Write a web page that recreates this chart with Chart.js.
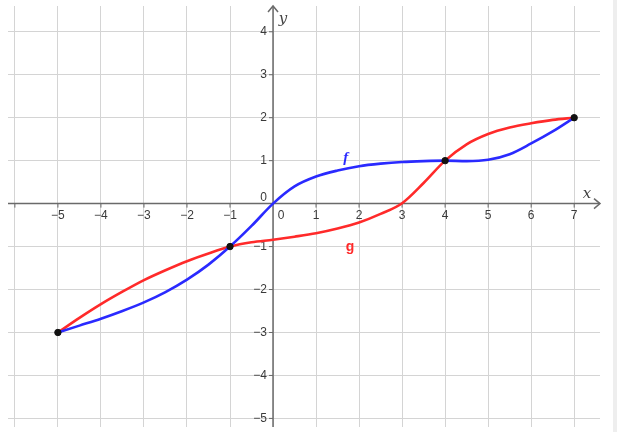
<!DOCTYPE html>
<html>
<head>
<meta charset="utf-8">
<script src="https://cdn.jsdelivr.net/npm/chart.js@4"></script>
<style>
  html, body { margin: 0; padding: 0; background: #fff; }
  #wrap { width: 617px; height: 432px; position: relative; }
</style>
</head>
<body>
<div id="wrap"><canvas id="graph"></canvas></div>
<script>
const xTicks = [-6, -5, -4, -3, -2, -1, 0, 1, 2, 3, 4, 5, 6, 7];
const yTicks = [-5, -4, -3, -2, -1, 0, 1, 2, 3, 4];

// values
const fX = [-5, -4.5, -4, -3.5, -3, -2.5, -2, -1.5, -1, -0.5, 0, 0.5, 1, 1.5, 2, 2.5, 3, 3.5, 4, 4.5, 5, 5.5, 6, 6.5, 7];
const fY = [-3, -2.84, -2.68, -2.5, -2.3, -2.06, -1.77, -1.42, -1, -0.52, 0, 0.4, 0.63, 0.77, 0.87, 0.93, 0.97, 0.99, 1, 0.99, 1.02, 1.15, 1.4, 1.68, 2];
const gX = [-5, -4.5, -4, -3.5, -3, -2.5, -2, -1.5, -1, -0.5, 0, 0.5, 1, 1.5, 2, 2.5, 3, 3.5, 4, 4.5, 5, 5.5, 6, 6.5, 7];
const gY = [-3, -2.66, -2.34, -2.05, -1.78, -1.55, -1.34, -1.16, -1, -0.9, -0.84, -0.77, -0.69, -0.58, -0.44, -0.24, 0.01, 0.48, 1, 1.38, 1.62, 1.77, 1.87, 1.95, 2];
const dotX = [-5, -1, 4, 7];
const dotY = [-3, -1, 1, 2];

const toPts = (xs, ys) => xs.map((x, i) => ({ x: x, y: ys[i] }));

const axesPlugin = {
  id: 'axes',
  beforeDatasetsDraw(chart) {
    const c = chart.ctx;
    const sx = chart.scales.x, sy = chart.scales.y;
    const area = chart.chartArea;
    const ox = sx.getPixelForValue(0), oy = sy.getPixelForValue(0);
    c.save();
    c.strokeStyle = '#6a6a6a';
    c.fillStyle = '#6a6a6a';
    c.lineWidth = 1.5;
    // x axis
    c.beginPath();
    c.moveTo(area.left, oy); c.lineTo(area.right, oy);
    c.stroke();
    c.beginPath();
    c.moveTo(area.right - 6, oy - 5); c.lineTo(area.right, oy); c.lineTo(area.right - 6, oy + 5);
    c.stroke();
    // y axis
    c.beginPath();
    c.moveTo(ox, area.bottom); c.lineTo(ox, area.top);
    c.stroke();
    c.beginPath();
    c.moveTo(ox - 5, area.top + 6); c.lineTo(ox, area.top); c.lineTo(ox + 5, area.top + 6);
    c.stroke();
    // tick marks
    c.lineWidth = 1;
    xTicks.forEach(v => {
      if (v === 0) return;
      const px = sx.getPixelForValue(v);
      c.beginPath(); c.moveTo(px, oy); c.lineTo(px, oy + 4); c.stroke();
    });
    yTicks.forEach(v => {
      if (v === 0) return;
      const py = sy.getPixelForValue(v);
      c.beginPath(); c.moveTo(ox - 4, py); c.lineTo(ox, py); c.stroke();
    });
    // tick labels
    c.fillStyle = '#3a3a3a';
    c.font = '12px "Liberation Sans", Arial, sans-serif';
    c.textAlign = 'center';
    c.textBaseline = 'middle';
    xTicks.forEach(v => {
      if (v === -6) return;
      const lbl = v < 0 ? '\u2212' + Math.abs(v) : String(v);
      let px = sx.getPixelForValue(v);
      if (v === 0) px += 8;
      c.fillText(lbl, px, oy + 12);
    });
    c.textAlign = 'right';
    yTicks.forEach(v => {
      const lbl = v < 0 ? '\u2212' + Math.abs(v) : String(v);
      let py = sy.getPixelForValue(v);
      if (v === 0) py -= 6;
      c.fillText(lbl, ox - 6, py);
    });
    // axis names
    c.font = 'italic 15px "DejaVu Serif", "Liberation Serif", serif';
    c.fillStyle = '#444';
    c.textAlign = 'center';
    c.fillText('x', sx.getPixelForValue(7.3), oy - 10);
    c.fillText('y', ox + 10, sy.getPixelForValue(4.3));
    c.restore();
  },
  afterDatasetsDraw(chart) {
    const c = chart.ctx;
    const sx = chart.scales.x, sy = chart.scales.y;
    c.save();
    c.textAlign = 'center';
    c.textBaseline = 'middle';
    c.font = 'italic bold 15px "Liberation Serif", serif';
    c.fillStyle = '#2a2aff';
    c.fillText('f', sx.getPixelForValue(1.69), sy.getPixelForValue(1.07));
    c.font = 'bold 14px "Liberation Sans", sans-serif';
    c.fillStyle = '#ff2a2a';
    c.fillText('g', sx.getPixelForValue(1.79), sy.getPixelForValue(-1.02));
    // right panel edge
    c.fillStyle = '#eeeeee';
    c.fillRect(613, 0, 4, chart.height);
    c.restore();
  }
};

new Chart(document.querySelector('#graph'), {
  type: 'scatter',
  data: {
    datasets: [
      {
        label: 'points',
        data: toPts(dotX, dotY),
        showLine: false,
        pointRadius: 3.2,
        backgroundColor: '#111',
        borderColor: '#111',
        order: 0
      },
      {
        label: 'f',
        data: toPts(fX, fY),
        showLine: true,
        borderColor: '#2a2aff',
        borderWidth: 2.6,
        pointRadius: 0,
        cubicInterpolationMode: 'monotone',
        order: 1
      },
      {
        label: 'g',
        data: toPts(gX, gY),
        showLine: true,
        borderColor: '#ff2a2a',
        borderWidth: 2.6,
        pointRadius: 0,
        cubicInterpolationMode: 'monotone',
        order: 2
      }
    ]
  },
  options: {
    responsive: true,
    maintainAspectRatio: false,
    animation: false,
    layout: { padding: { left: 8, right: 17, top: 6, bottom: 4 } },
    plugins: { legend: { display: false }, tooltip: { enabled: false } },
    scales: {
      x: {
        type: 'linear',
        min: -6.16,
        max: 7.6,
        afterBuildTicks: s => { s.ticks = xTicks.map(v => ({ value: v })); },
        ticks: { display: false },
        border: { display: false },
        grid: { color: '#d4d4d4', lineWidth: 1, drawTicks: false }
      },
      y: {
        type: 'linear',
        min: -5.2,
        max: 4.6,
        afterBuildTicks: s => { s.ticks = yTicks.map(v => ({ value: v })); },
        ticks: { display: false },
        border: { display: false },
        grid: { color: '#d4d4d4', lineWidth: 1, drawTicks: false }
      }
    }
  },
  plugins: [axesPlugin]
});
</script>
</body>
</html>
